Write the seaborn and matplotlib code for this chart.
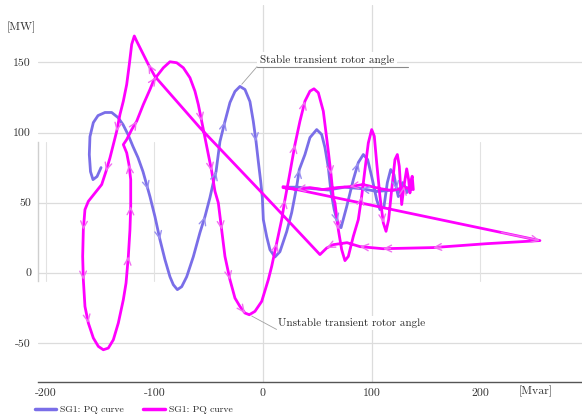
import matplotlib
matplotlib.use('Agg')
import matplotlib.pyplot as plt
from matplotlib.lines import Line2D
import numpy as np
import seaborn as sb

# SG1 PQ trajectories: Q in Mvar, P in MW
stable_q = [-149.0, -152.7, -156.4, -158.7, -159.8, -159.2, -156.1, -151.8, -145.4, -139.2,
            -133.4, -128.8, -124.2, -119.6, -115.0, -110.4, -105.8, -104.0, -99.4, -94.8,
            -90.2, -85.6, -82.5, -78.8, -74.8, -70.2, -64.1, -58.0, -53.4, -48.8,
            -45.1, -43.2, -39.6, -35.0, -30.4, -25.8, -21.2, -16.6, -12.0, -8.9,
            -6.4, -4.3, -2.1, -0.6, 0.3, 3.4, 6.4, 11.0, 15.6, 21.8,
            26.4, 31.0, 33.4, 38.6, 43.2, 49.4, 54.0, 57.0, 60.1, 62.5,
            65.5, 68.5, 71.8, 77.0, 83.1, 87.7, 92.3, 96.3, 100.0, 104.6,
            107.6, 111.3, 114.4, 117.5, 120.5, 123.0, 124.5, 126.7, 128.5, 130.6,
            132.2, 134.0, 120.0, 105.0, 90.0, 75.0, 60.0, 45.0, 32.0, 20.0]
stable_p = [75.0, 68.6, 66.4, 72.1, 84.3, 97.1, 107.1, 112.1, 114.3, 114.3,
            110.7, 105.7, 98.6, 90.0, 82.1, 72.1, 59.3, 54.3, 40.0, 23.6,
            9.3, -2.9, -8.6, -12.1, -10.0, -2.9, 11.4, 28.6, 40.0, 53.6,
            66.4, 72.1, 93.6, 107.9, 121.4, 129.3, 132.9, 130.7, 122.1, 107.9,
            93.6, 79.3, 65.0, 53.6, 37.9, 25.7, 16.4, 11.2, 15.0, 29.3,
            42.9, 61.4, 73.6, 84.3, 96.4, 102.1, 98.6, 89.3, 75.0, 58.0,
            45.0, 36.0, 32.1, 47.1, 66.4, 78.6, 84.3, 80.7, 68.6, 52.1,
            45.0, 47.1, 64.3, 73.6, 70.0, 59.3, 54.3, 59.3, 64.3, 61.4,
            57.1, 60.7, 59.0, 58.0, 60.0, 61.0, 59.0, 60.0, 61.0, 61.0]

unstable_q = [18.4, 254.8, 206.1, 156.4, 110.4, 89.2, 77.3, 70.8, 64.7, 58.6,
              52.4, 3.4, -58.0, -99.4, -105.5, -111.6, -116.2, -118.4, -120.8, -123.0,
              -125.4, -128.5, -131.6, -134.6, -137.7, -140.8, -144.4, -148.4, -154.6, -160.7,
              -163.8, -165.3, -165.9, -165.3, -163.8, -160.7, -156.1, -151.5, -146.9, -142.3,
              -137.7, -133.1, -128.5, -126.0, -123.9, -122.4, -121.7, -121.7, -123.3, -125.4,
              -128.5, -125.4, -120.8, -116.2, -110.1, -104.0, -100.9, -98.4, -91.7, -85.6,
              -79.4, -73.3, -67.2, -62.6, -59.5, -56.4, -53.4, -50.3, -47.2, -44.2,
              -41.1, -38.0, -35.0, -30.4, -25.8, -21.2, -16.6, -12.6, -7.4, -1.2,
              4.9, 8.0, 12.6, 17.2, 20.2, 24.2, 29.4, 34.0, 38.6, 43.2,
              46.9, 50.9, 55.5, 60.1, 62.6, 64.7, 66.2, 69.3, 72.4, 75.4,
              78.5, 83.1, 87.7, 90.8, 93.8, 96.9, 100.0, 102.4, 104.6, 107.6,
              110.7, 113.2, 115.6, 118.4, 121.4, 123.6, 125.4, 126.7, 127.6, 129.7,
              132.2, 134.0, 135.2, 136.4, 137.3, 138.3, 130.6, 118.7, 107.6, 92.0,
              80.0, 68.1, 55.2, 43.2, 31.3, 18.4]
unstable_p = [61.4, 22.9, 20.7, 17.9, 17.1, 18.6, 21.4, 20.7, 20.0, 17.6,
              12.9, 53.4, 103.4, 140.0, 148.6, 158.1, 165.2, 168.9, 162.9, 148.6,
              134.3, 122.4, 112.9, 100.9, 91.4, 81.9, 72.4, 62.9, 56.9, 50.9,
              45.0, 30.7, 11.6, -5.0, -24.1, -35.9, -46.6, -52.6, -55.0, -53.8,
              -47.9, -35.9, -19.3, -7.4, 11.6, 30.7, 47.4, 66.4, 77.1, 85.5,
              91.4, 95.0, 102.1, 108.1, 120.0, 130.7, 136.6, 139.5, 146.2, 150.5,
              149.8, 146.2, 139.1, 129.5, 120.0, 108.1, 96.2, 84.3, 72.4, 58.1,
              49.8, 30.7, 11.6, -5.0, -18.1, -24.1, -28.8, -30.0, -27.6, -20.5,
              -5.0, 4.5, 21.2, 37.9, 52.1, 68.8, 91.4, 108.1, 122.4, 129.5,
              131.2, 128.4, 115.2, 86.6, 70.0, 53.4, 49.8, 30.7, 16.4, 8.6,
              11.6, 25.9, 37.9, 54.5, 73.6, 92.6, 102.1, 97.4, 78.4, 54.5,
              35.5, 29.5, 37.9, 59.3, 80.7, 84.3, 75.9, 59.3, 48.6, 61.6,
              74.1, 66.4, 56.9, 66.4, 68.8, 59.3, 60.7, 58.6, 60.0, 62.9,
              61.4, 60.7, 59.3, 60.7, 59.3, 60.7]

# where the direction arrows sit (index of point the arrow points to)
stable_arrows = [16, 19, 28, 31, 33, 40, 52, 61, 65, 75, 84]
unstable_arrows = [1, 3, 4, 5, 9, 14, 23, 26, 31, 33, 35, 44, 46, 48, 53, 57, 65, 68,
                   71, 73, 76, 82, 84, 86, 88, 94, 97, 103, 110, 119, 130, 134]

legend_labels = ['SG1: PQ curve', 'SG1: PQ curve']

blue = '#7a6ee8'
magenta = '#ff00ff'

sb.set_style('white')
plt.rcParams['font.family'] = 'cmr10'
plt.rcParams['mathtext.fontset'] = 'cm'
plt.rcParams['axes.unicode_minus'] = False
plt.rcParams['axes.formatter.use_mathtext'] = False

fig = plt.figure(figsize=(5.82, 4.2), dpi=100)
ax = fig.add_axes([0.0653, 0.0905, 0.9347, 0.8976])
ax.set_xlim(-207, 293.5)
ax.set_ylim(-78, 191)

# grid
for y in [-50, 0, 50, 100, 150]:
    ax.axhline(y, color='#dcdcdc', lw=0.9, zorder=0)
for x in [0, 100]:
    ax.axvline(x, color='#dcdcdc', lw=0.9, zorder=0)
for x in [-200, -100, 200]:
    ax.axvline(x, ymin=(-6 + 78) / 269, ymax=(93 + 78) / 269, color='#e2e2e2', lw=0.8, zorder=0)

sb.lineplot(x=stable_q, y=stable_p, sort=False, estimator=None, color=blue, lw=2.0,
            solid_joinstyle='round', ax=ax, zorder=3)
sb.lineplot(x=unstable_q, y=unstable_p, sort=False, estimator=None, color=magenta, lw=2.0,
            solid_joinstyle='round', ax=ax, zorder=4)


def add_arrows(q, p, idx, col, z):
    for i in idx:
        x1, y1 = q[i], p[i]
        x0, y0 = q[i - 1], p[i - 1]
        xs = x1 - 0.15 * (x1 - x0)
        ys = y1 - 0.15 * (y1 - y0)
        ax.annotate('', xy=(x1, y1), xytext=(xs, ys), zorder=z,
                    arrowprops=dict(arrowstyle='->,head_length=0.5,head_width=0.24',
                                    color=col, lw=1.0, shrinkA=0, shrinkB=0))


add_arrows(stable_q, stable_p, stable_arrows, '#9a90f0', 5)
add_arrows(unstable_q, unstable_p, unstable_arrows, '#f070f0', 6)

# annotations
ax.text(-3, 148.5, 'Stable transient rotor angle', fontsize=8, ha='left', va='bottom',
        bbox=dict(boxstyle='square,pad=0.25', fc='white', ec='none'), zorder=2)
ax.plot([-5.5, 133.5], [147, 147], color='#8a8a8a', lw=0.8, zorder=2)
ax.annotate('', xy=(stable_q[36], stable_p[36]), xytext=(-5.5, 147), zorder=2,
            arrowprops=dict(arrowstyle='-', color='#a0a0a0', lw=0.6, shrinkA=0, shrinkB=2))
ax.text(14, -36, 'Unstable transient rotor angle', fontsize=8, ha='left', va='center',
        bbox=dict(boxstyle='square,pad=0.2', fc='white', ec='none'), zorder=2)
ax.annotate('', xy=(unstable_q[77], unstable_p[77]), xytext=(12.5, -40.5), zorder=2,
            arrowprops=dict(arrowstyle='-', color='#a0a0a0', lw=0.6, shrinkA=0, shrinkB=2))

# axes styling
for s in ['top', 'right']:
    ax.spines[s].set_visible(False)
ax.spines['bottom'].set_color('#555555')
ax.spines['bottom'].set_linewidth(1.0)
ax.spines['left'].set_bounds(-6, 93)
ax.spines['left'].set_color('#cfcfcf')
ax.spines['left'].set_linewidth(1.0)

ax.set_xticks([-200, -100, 0, 100, 200])
ax.set_yticks([-50, 0, 50, 100, 150])
ax.set_xticks([-175, -150, -125, -50, -25, 125, 150, 225, 250, 275], minor=True)
ax.set_yticks([187.5, 137.5, 87.5, 75, 62.5, 37.5, 25, 12.5, -12.5, -62.5], minor=True)
ax.tick_params(axis='both', which='major', length=0, labelsize=8.5, colors='#333333')
ax.tick_params(axis='x', which='major', pad=5)
ax.tick_params(axis='y', which='major', pad=5)
ax.tick_params(axis='both', which='minor', direction='in', length=3, width=0.7, color='#bdbdbd')

fig.text(0.036, 0.936, '[MW]', fontsize=8.5, ha='center', va='center', color='#333333')
fig.text(0.921, 0.069, '[Mvar]', fontsize=8.5, ha='center', va='center', color='#333333')

handles = [Line2D([], [], color=blue, lw=2.5), Line2D([], [], color=magenta, lw=2.5)]
fig.legend(handles, legend_labels, loc='center left', bbox_to_anchor=(0.06, 0.024), ncol=2,
           frameon=False, fontsize=7, handlelength=2.2, handletextpad=0.4, columnspacing=2.0,
           borderpad=0, borderaxespad=0)

plt.savefig('out.png', dpi=100)
